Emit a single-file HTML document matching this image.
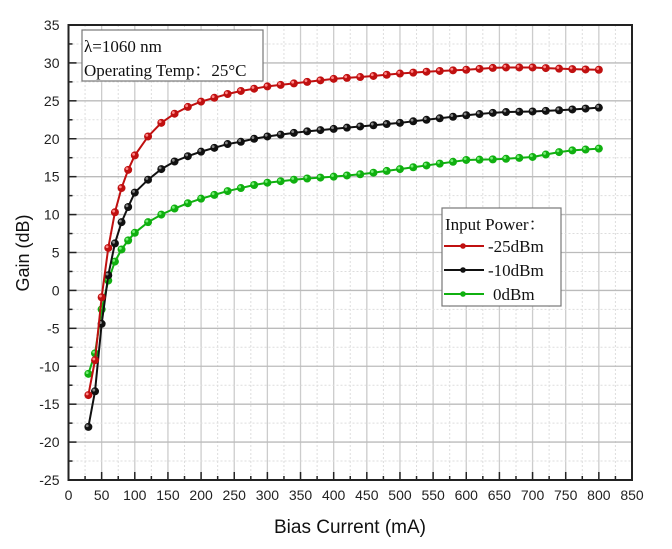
<!DOCTYPE html>
<html><head><meta charset="utf-8"><style>
body{margin:0;background:#fff;width:672px;height:544px;overflow:hidden}
svg text{font-family:"Liberation Sans",sans-serif}
.s{font-family:"Liberation Serif","Noto Serif CJK SC",serif}
</style></head><body>
<svg id="c" width="672" height="544" xmlns="http://www.w3.org/2000/svg"></svg>
<script>
const X0=68.5,X1=632,Y0=25,Y1=480;
const xs=v=>X0+v*(X1-X0)/850, ys=v=>Y0+(35-v)*(Y1-Y0)/60;
let s='';
for(let v=25;v<850;v+=25){const x=xs(v);s+=v%50?`<line x1="${x}" y1="${Y0}" x2="${x}" y2="${Y1}" stroke="#ddd" stroke-dasharray="2,2"/>`:`<line x1="${x}" y1="${Y0}" x2="${x}" y2="${Y1}" stroke="#ccc" stroke-width="1.3"/>`;}
for(let v=-22.5;v<35;v+=2.5){const y=ys(v);s+=(v*2)%10?`<line x1="${X0}" y1="${y}" x2="${X1}" y2="${y}" stroke="#ddd" stroke-dasharray="2,2"/>`:`<line x1="${X0}" y1="${y}" x2="${X1}" y2="${y}" stroke="#bbb" stroke-width="1.3"/>`;}
const xsD=[30,40,50,60,70,80,90,100];for(let v=120;v<=800;v+=20)xsD.push(v);
function interp(a,x){for(let i=0;i<a.length-1;i++){if(x<=a[i+1][0]){const t=(x-a[i][0])/(a[i+1][0]-a[i][0]);return a[i][1]+t*(a[i+1][1]-a[i][1]);}}return a[a.length-1][1];}
const R=[[30,-13.8],[40,-9.2],[50,-0.9],[60,5.6],[70,10.3],[80,13.5],[90,15.9],[100,17.8],[120,20.3],[140,22.1],[160,23.3],[180,24.2],[200,24.9],[220,25.4],[240,25.9],[260,26.3],[280,26.6],[300,26.9],[350,27.4],[400,27.9],[450,28.2],[500,28.6],[550,28.9],[600,29.1],[650,29.4],[700,29.4],[750,29.2],[800,29.1]];
const B=[[30,-18],[40,-13.3],[50,-4.4],[60,2],[70,6.2],[80,9],[90,11],[100,12.9],[120,14.6],[140,16],[160,17],[180,17.7],[200,18.3],[220,18.8],[240,19.3],[260,19.6],[280,20],[300,20.3],[350,20.9],[400,21.3],[450,21.7],[500,22.1],[550,22.6],[600,23.1],[650,23.5],[700,23.6],[750,23.8],[800,24.1]];
const G=[[30,-11],[40,-8.3],[50,-2.5],[60,1.3],[70,3.8],[80,5.4],[90,6.6],[100,7.6],[120,9],[140,10],[160,10.8],[180,11.5],[200,12.1],[220,12.6],[240,13.1],[260,13.5],[280,13.9],[300,14.2],[350,14.7],[400,15],[450,15.4],[500,16],[550,16.6],[600,17.2],[650,17.3],[700,17.6],[750,18.4],[800,18.7]];
function ser(a,c,hl){const p=xsD.map(x=>[xs(x),ys(interp(a,x))]);s+=`<polyline fill="none" stroke="${c}" stroke-width="2" points="${p.map(q=>q.join(',')).join(' ')}"/>`;p.forEach(q=>{s+=`<circle cx="${q[0]}" cy="${q[1]}" r="4" fill="${c}"/><circle cx="${q[0]-1.2}" cy="${q[1]-1.2}" r="1.4" fill="${hl}"/>`;});}
ser(G,'#10b010','#7e7');ser(B,'#111','#888');ser(R,'#c01010','#f88');
s+=`<rect x="${X0}" y="${Y0}" width="${X1-X0}" height="${Y1-Y0}" fill="none" stroke="#222" stroke-width="2"/>`;
for(let v=0;v<=850;v+=25){const x=xs(v);s+=`<line x1="${x}" y1="${Y1}" x2="${x}" y2="${Y1-(v%50?4:8)}" stroke="#222" stroke-width="1.5"/>`;if(v%50==0)s+=`<text x="${x}" y="${Y1+20}" font-size="14" text-anchor="middle" fill="#222">${v}</text>`;}
for(let v=-25;v<=35;v+=2.5){const y=ys(v);s+=`<line x1="${X0}" y1="${y}" x2="${X0+(v%5?4:8)}" y2="${y}" stroke="#222" stroke-width="1.5"/>`;if(v%5==0)s+=`<text x="${X0-9}" y="${y+5}" font-size="14" text-anchor="end" fill="#222">${v}</text>`;}
s+=`<text x="350" y="533" font-size="19" text-anchor="middle" fill="#111">Bias Current (mA)</text>`;
s+=`<text transform="translate(29,253) rotate(-90)" font-size="18" text-anchor="middle" fill="#111">Gain (dB)</text>`;
s+=`<rect x="82" y="30" width="181" height="51" fill="#fff" stroke="#777" stroke-width="1.2"/>`;
s+=`<text class="s" x="84" y="52" font-size="17" fill="#111">λ=1060 nm</text><text class="s" x="84" y="76" font-size="17" fill="#111">Operating Temp：25°C</text>`;
s+=`<rect x="442" y="208" width="119" height="98" fill="#fff" stroke="#777" stroke-width="1.2"/>`;
s+=`<text class="s" x="445" y="230" font-size="17" fill="#111">Input Power：</text>`;
[['#c01010','-25dBm',246],['#111','-10dBm',270],['#10b010',' 0dBm',294]].forEach(([c,t,y])=>{s+=`<line x1="444" y1="${y}" x2="484" y2="${y}" stroke="${c}" stroke-width="2"/><circle cx="463" cy="${y}" r="2.8" fill="${c}"/><text class="s" x="${t[0]==' '?493:488}" y="${y+6}" font-size="17" fill="#111">${t.trim()}</text>`;});
document.getElementById('c').innerHTML=s;
</script>
</body></html>
